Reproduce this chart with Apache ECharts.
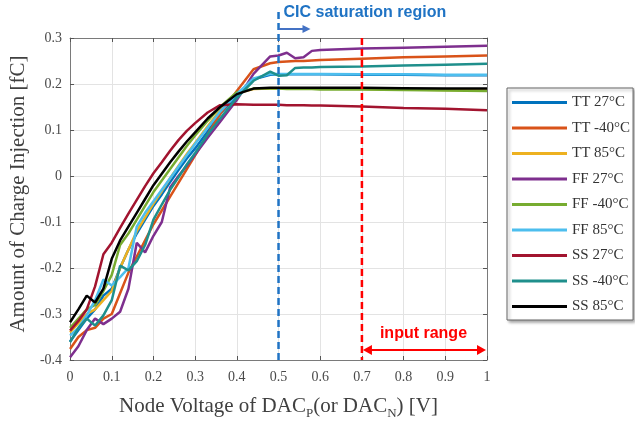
<!DOCTYPE html>
<html>
<head>
<meta charset="utf-8">
<script src="https://cdn.jsdelivr.net/npm/echarts@6/dist/echarts.min.js"></script>
<style>html,body{margin:0;padding:0;background:#fff}#c{width:635px;height:425px}</style>
</head>
<body>
<div id="c"></div>
<script>
const xs = [0,0.02,0.04,0.06,0.08,0.1,0.12,0.14,0.16,0.18,0.2,0.22,0.24,0.26,0.28,0.3,0.33,0.36,0.4,0.44,0.48,0.5,0.52,0.54,0.56,0.58,0.6,0.7,0.8,0.9,1.0];
const seriesNames = ['TT 27°C','TT -40°C','TT 85°C','FF 27°C','FF -40°C','FF 85°C','SS 27°C','SS -40°C','SS 85°C'];
const tt27 = [-0.36,-0.335,-0.31,-0.29,-0.26,-0.245,-0.2,-0.16,-0.125,-0.095,-0.065,-0.04,-0.013,0.013,0.038,0.06,0.097,0.135,0.175,0.21,0.22,0.221,0.221,0.221,0.221,0.221,0.221,0.22,0.22,0.219,0.219];
const tt40 = [-0.376,-0.35,-0.335,-0.33,-0.31,-0.3,-0.255,-0.21,-0.175,-0.14,-0.105,-0.075,-0.045,-0.015,0.015,0.045,0.09,0.135,0.185,0.232,0.245,0.248,0.249,0.25,0.25,0.251,0.252,0.255,0.258,0.26,0.262];
const tt85 = [-0.34,-0.32,-0.3,-0.29,-0.27,-0.25,-0.2,-0.16,-0.12,-0.09,-0.06,-0.033,-0.005,0.022,0.048,0.072,0.108,0.143,0.18,0.189,0.19,0.19,0.19,0.19,0.19,0.19,0.19,0.189,0.188,0.187,0.186];
const ff27 = [-0.394,-0.37,-0.335,-0.31,-0.322,-0.31,-0.295,-0.245,-0.145,-0.166,-0.13,-0.1,-0.025,0.0,0.023,0.047,0.083,0.118,0.165,0.222,0.26,0.262,0.268,0.256,0.258,0.272,0.274,0.277,0.279,0.281,0.283];
const ff40 = [-0.33,-0.31,-0.29,-0.28,-0.25,-0.215,-0.15,-0.125,-0.095,-0.065,-0.035,-0.01,0.015,0.04,0.065,0.088,0.12,0.15,0.182,0.19,0.19,0.19,0.189,0.189,0.189,0.189,0.188,0.188,0.187,0.186,0.185];
const ff85 = [-0.347,-0.33,-0.303,-0.27,-0.225,-0.238,-0.22,-0.2,-0.11,-0.08,-0.055,-0.03,-0.005,0.02,0.045,0.07,0.105,0.14,0.178,0.212,0.222,0.222,0.222,0.222,0.222,0.222,0.222,0.221,0.221,0.22,0.22];
const ss27 = [-0.336,-0.315,-0.29,-0.24,-0.17,-0.145,-0.113,-0.082,-0.052,-0.022,0.006,0.03,0.055,0.078,0.098,0.115,0.138,0.154,0.156,0.155,0.155,0.155,0.154,0.154,0.154,0.153,0.153,0.151,0.148,0.146,0.143];
const ss40 = [-0.361,-0.33,-0.31,-0.325,-0.303,-0.27,-0.195,-0.205,-0.185,-0.15,-0.095,-0.062,-0.03,-0.003,0.025,0.05,0.09,0.125,0.17,0.207,0.227,0.218,0.219,0.235,0.236,0.236,0.237,0.238,0.24,0.242,0.244];
const ss85 = [-0.318,-0.29,-0.26,-0.275,-0.245,-0.18,-0.14,-0.11,-0.08,-0.05,-0.02,0.005,0.03,0.053,0.075,0.095,0.125,0.15,0.178,0.19,0.192,0.192,0.192,0.192,0.192,0.192,0.192,0.192,0.191,0.19,0.19];
const allValues = [tt27, tt40, tt85, ff27, ff40, ff85, ss27, ss40, ss85];
const colors = ['#0072BD','#D95319','#EDB120','#7E2F8E','#77AC30','#4DBEEE','#A2142F','#1F8F8C','#000000'];
const xTickLabels = ['0','0.1','0.2','0.3','0.4','0.5','0.6','0.7','0.8','0.9','1'];
const yTickLabels = ['-0.4','-0.3','-0.2','-0.1','0','0.1','0.2','0.3'];
const satStart = 0.5, rangeStart = 0.7, rangeEnd = 1.0;

const serif = 'Liberation Serif';
const chart = echarts.init(document.getElementById('c'), null, {renderer:'canvas'});
const series = allValues.map((vals, i) => ({
  name: seriesNames[i], type: 'line', showSymbol: false, symbol: 'none',
  data: xs.map((x, j) => [x, vals[j]]),
  lineStyle: {width: 2.5, color: colors[i]}, itemStyle: {color: colors[i]}, z: 2 + i
}));
const fmtX = v => xTickLabels[Math.round(v * 10)];
const fmtY = v => yTickLabels[Math.round(v * 10) + 4];
const axisLineStyle = {onZero: false, lineStyle: {color: '#7a7a7a', width: 1}};
const tickStyle = {inside: true, length: 4, lineStyle: {color: '#555'}};
chart.setOption({
  animation: false,
  backgroundColor: '#fff',
  grid: {left: 70, right: 148, top: 38, bottom: 63},
  legend: {
    orient: 'vertical', left: 507, top: 88, padding: [7, 3, 6, 5],
    itemWidth: 55, itemHeight: 3, itemGap: 10.5, icon: 'rect',
    backgroundColor: '#fff', borderColor: '#666', borderWidth: 1,
    shadowColor: 'rgba(0,0,0,0.35)', shadowBlur: 3, shadowOffsetX: 2, shadowOffsetY: 2,
    textStyle: {fontFamily: serif, fontSize: 15, color: '#333'},
    data: seriesNames
  },
  xAxis: [{
    type: 'value', min: 0, max: 1, interval: 0.1,
    axisLine: axisLineStyle, axisTick: tickStyle,
    axisLabel: {formatter: fmtX, fontFamily: serif, fontSize: 14, color: '#4a4a4a', margin: 10},
    splitLine: {lineStyle: {color: '#e3e3e3', width: 1}},
    name: 'Node Voltage of DAC{sub|P}(or DAC{sub|N}) [V]', nameLocation: 'middle', nameGap: 33,
    nameTextStyle: {fontFamily: serif, fontSize: 21, color: '#404040',
      rich: {sub: {fontFamily: serif, fontSize: 13, color: '#404040', padding: [14, 0, 0, 0]}}}
  }, {
    type: 'value', min: 0, max: 1, interval: 0.1, position: 'top',
    axisLine: axisLineStyle, axisTick: tickStyle,
    axisLabel: {show: false}, splitLine: {show: false}
  }],
  yAxis: [{
    type: 'value', min: -0.4, max: 0.3, interval: 0.1,
    axisLine: axisLineStyle, axisTick: tickStyle,
    axisLabel: {formatter: fmtY, fontFamily: serif, fontSize: 14, color: '#4a4a4a', margin: 8},
    splitLine: {lineStyle: {color: '#e3e3e3', width: 1}},
    name: 'Amount of Charge Injection [fC]', nameLocation: 'middle', nameGap: 38,
    nameTextStyle: {fontFamily: serif, fontSize: 21, color: '#404040', padding: [0, 0, 0, 10]}
  }, {
    type: 'value', min: -0.4, max: 0.3, interval: 0.1, position: 'right',
    axisLine: axisLineStyle, axisTick: tickStyle,
    axisLabel: {show: false}, splitLine: {show: false}
  }],
  series: series
});

const P = (x, y) => chart.convertToPixel({xAxisIndex: 0, yAxisIndex: 0}, [x, y]);
const plotTop = P(0, 0.3)[1], plotBot = P(0, -0.4)[1];
const xs0 = P(satStart, 0)[0], xr0 = P(rangeStart, 0)[0], xr1 = P(rangeEnd, 0)[0];
const blue = '#1F73C4', red = '#FF0000';
const arrowY = plotTop - 9, rangeY = plotBot - 10;
chart.setOption({
  graphic: [
    {type: 'line', shape: {x1: xs0, y1: 12, x2: xs0, y2: plotBot}, style: {stroke: blue, lineWidth: 2.5, lineDash: [7, 4]}, z: 50},
    {type: 'line', shape: {x1: xr0, y1: plotTop, x2: xr0, y2: plotBot}, style: {stroke: red, lineWidth: 2.5, lineDash: [7, 4]}, z: 50},
    {type: 'text', left: xs0 + 5, top: 5, style: {text: 'CIC saturation region', fill: blue, font: 'bold 16px "Liberation Sans", sans-serif'}, z: 60},
    {type: 'line', shape: {x1: xs0, y1: arrowY, x2: xs0 + 26, y2: arrowY}, style: {stroke: '#4472C4', lineWidth: 2}, z: 60},
    {type: 'polygon', shape: {points: [[xs0 + 32, arrowY], [xs0 + 24, arrowY - 4], [xs0 + 24, arrowY + 4]]}, style: {fill: '#4472C4'}, z: 60},
    {type: 'text', left: xr0 + 18, top: rangeY - 24, style: {text: 'input range', fill: red, font: 'bold 16px "Liberation Sans", sans-serif'}, z: 60},
    {type: 'line', shape: {x1: xr0 + 6, y1: rangeY, x2: xr1 - 6, y2: rangeY}, style: {stroke: red, lineWidth: 2}, z: 60},
    {type: 'polygon', shape: {points: [[xr0 + 1, rangeY], [xr0 + 10, rangeY - 5], [xr0 + 10, rangeY + 5]]}, style: {fill: red}, z: 60},
    {type: 'polygon', shape: {points: [[xr1 - 1, rangeY], [xr1 - 10, rangeY - 5], [xr1 - 10, rangeY + 5]]}, style: {fill: red}, z: 60}
  ]
});
</script>
</body>
</html>
